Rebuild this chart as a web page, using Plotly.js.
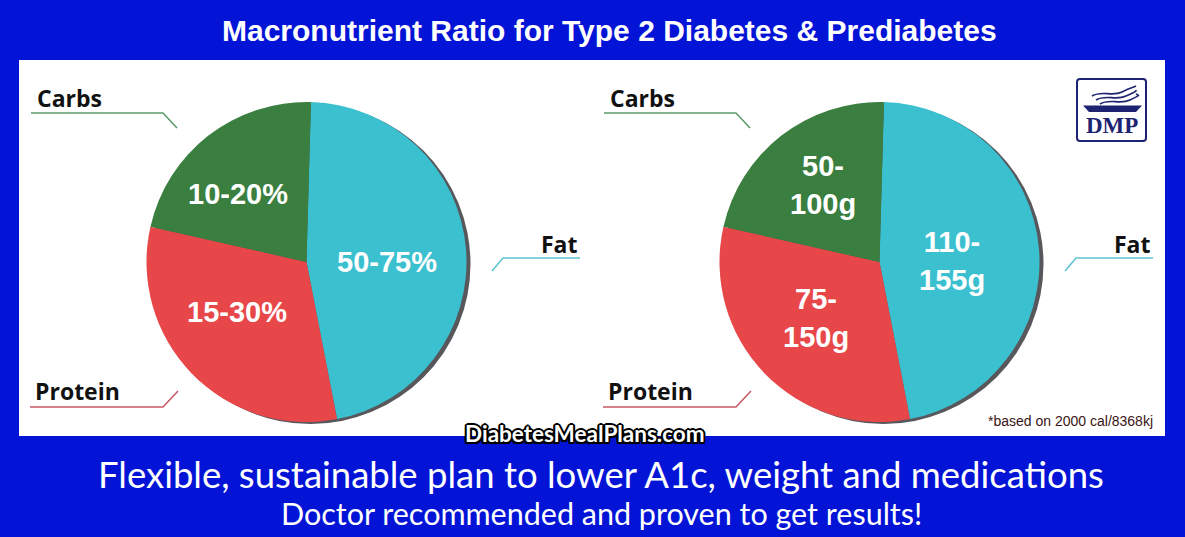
<!DOCTYPE html>
<html>
<head>
<meta charset="utf-8">
<script src="https://cdn.plot.ly/plotly-3.0.1.min.js"></script>
<style>
  html, body { margin: 0; padding: 0; background: #0314d6; }
  #chart { width: 1185px; height: 537px; }
</style>
</head>
<body>
<div id="chart"></div>
<script>
// ---------- DATA ----------
const macros = ['Fat', 'Protein', 'Carbs'];
const percentShare = [46.5, 31.6, 21.9];          // left pie (share of calories)
const gramShare = [46.5, 31.6, 21.9];             // right pie (same split, in grams)
const percentLabels = ['50-75%', '15-30%', '10-20%'];
const gramLabels = ['110-<br>155g', '75-<br>150g', '50-<br>100g'];
const sliceColors = ['#3bc0cf', '#e8474a', '#3a7f3f'];
const lineColors = ['#5fc4d1', '#c75a68', '#5c9c6c'];

// ---------- LAYOUT HELPERS ----------
const W = 1185, H = 537;
function dom(cx, cy, r) {
  return { x: [(cx - r) / W, (cx + r) / W], y: [(H - cy - r) / H, (H - cy + r) / H] };
}
const pies = [
  { cx: 306.5, cy: 262, r: 160, values: percentShare, labels: percentLabels,
    textPos: [[386.5, 262], [237, 312], [237.5, 193.5]] },
  { cx: 879.5, cy: 262, r: 160, values: gramShare, labels: gramLabels,
    textPos: [[952, 261], [816, 318], [823, 185]] }
];
const shift = 573;

const traces = [];
// empty cartesian trace so that pixel-space axes exist for shapes/annotations
traces.push({ type: 'scatter', x: [], y: [], showlegend: false, hoverinfo: 'skip' });

pies.forEach(p => {
  // shadow
  traces.push({
    type: 'pie', values: [1], labels: ['shadow'], domain: dom(p.cx + 4, p.cy + 2, p.r),
    marker: { colors: ['#58585c'], line: { width: 0 } }, textinfo: 'none',
    hoverinfo: 'skip', showlegend: false, sort: false
  });
  traces.push({
    type: 'pie', values: p.values, labels: macros, domain: dom(p.cx, p.cy, p.r),
    marker: { colors: sliceColors, line: { width: 0 } }, textinfo: 'none',
    sort: false, direction: 'clockwise', rotation: 1.6,
    hoverinfo: 'label+value', showlegend: false
  });
});

const annotations = [];
const shapes = [];

// White panel
shapes.push({ type: 'rect', xref: 'x', yref: 'y', x0: 19, x1: 1165, y0: 60, y1: 436,
  fillcolor: '#ffffff', line: { width: 0 }, layer: 'below' });

// Inside slice labels
pies.forEach(p => {
  p.labels.forEach((t, i) => {
    annotations.push({ xref: 'x', yref: 'y', x: p.textPos[i][0], y: p.textPos[i][1],
      text: t, showarrow: false, xanchor: 'center', yanchor: 'middle',
      font: { family: 'Liberation Sans, Arial, sans-serif', size: 29, color: '#ffffff', weight: 'bold' } });
  });
});

// Outside category labels with leader lines
const outside = [
  { name: 'Carbs', tx: 35, ty: 98, color: lineColors[2],
    path: [[31, 113], [163, 113], [177, 128]] },
  { name: 'Fat', tx: 539, ty: 244, color: lineColors[0],
    path: [[580, 258], [503, 258], [492, 271]] },
  { name: 'Protein', tx: 33, ty: 391, color: lineColors[1],
    path: [[30, 407], [163, 407], [178, 391]] }
];
[0, shift].forEach(dx => {
  outside.forEach(o => {
    annotations.push({ xref: 'x', yref: 'y', x: o.tx + dx, y: o.ty, text: o.name,
      showarrow: false, xanchor: 'left', yanchor: 'middle',
      font: { family: 'Open Sans, sans-serif', size: 23, color: '#111111', weight: 'bold' } });
    const d = o.path.map((pt, k) => (k ? 'L' : 'M') + (pt[0] + dx) + ',' + pt[1]).join(' ');
    shapes.push({ type: 'path', xref: 'x', yref: 'y', path: d,
      line: { color: o.color, width: 1.6 }, layer: 'above' });
  });
});

// Title
annotations.push({ xref: 'x', yref: 'y', x: 609.5, y: 30, text: 'Macronutrient Ratio for Type 2 Diabetes &amp; Prediabetes',
  showarrow: false, xanchor: 'center', yanchor: 'middle',
  font: { family: 'Liberation Sans, Arial, sans-serif', size: 30, color: '#ffffff', weight: 'bold' } });

// Footnote
annotations.push({ xref: 'x', yref: 'y', x: 1155, y: 421, text: '*based on 2000 cal/8368kj',
  showarrow: false, xanchor: 'right', yanchor: 'middle',
  font: { family: 'Liberation Sans, Arial, sans-serif', size: 14, color: '#3a1414' } });

// Website
const outline = '-2px 0 0 #000, 2px 0 0 #000, 0 -2px 0 #000, 0 2px 0 #000, -1.5px -1.5px 0 #000, 1.5px 1.5px 0 #000, -1.5px 1.5px 0 #000, 1.5px -1.5px 0 #000, 0 0 3px #000';
annotations.push({ xref: 'x', yref: 'y', x: 585, y: 433, text: 'DiabetesMealPlans.com',
  showarrow: false, xanchor: 'center', yanchor: 'middle',
  font: { family: 'Lato, sans-serif', size: 22.5, color: '#ffffff', weight: 'bold', shadow: outline } });

// Footer lines
annotations.push({ xref: 'x', yref: 'y', x: 601, y: 474, text: 'Flexible, sustainable plan to lower A1c, weight and medications',
  showarrow: false, xanchor: 'center', yanchor: 'middle',
  font: { family: 'Lato, sans-serif', size: 36.5, color: '#ffffff' } });
annotations.push({ xref: 'x', yref: 'y', x: 601, y: 513, text: 'Doctor recommended and proven to get results!',
  showarrow: false, xanchor: 'center', yanchor: 'middle',
  font: { family: 'Lato, sans-serif', size: 30.5, color: '#ffffff' } });

// DMP logo
const navy = '#1d2370';
shapes.push({ type: 'path', xref: 'x', yref: 'y',
  path: 'M1080,79 L1143,79 Q1146,79 1146,82 L1146,138 Q1146,141 1143,141 L1080,141 Q1077,141 1077,138 L1077,82 Q1077,79 1080,79 Z',
  line: { color: navy, width: 2 }, fillcolor: '#ffffff', layer: 'above' });
shapes.push({ type: 'path', xref: 'x', yref: 'y',
  path: 'M1083,105.5 L1142,105.5 L1136,112 L1089,112 Z', line: { width: 0 }, fillcolor: navy, layer: 'above' });
[[0], [4], [8]].forEach(o => {
  const dy = o[0];
  shapes.push({ type: 'path', xref: 'x', yref: 'y',
    path: `M${1092 + dy},${96 + dy} C${1102 + dy},${90 + dy} ${1112 + dy},${97 + dy} ${1122 + dy},${92 + dy} S${1132 + dy},${88 + dy} ${1136},${86 + dy}`,
    line: { color: navy, width: 1.6 }, layer: 'above' });
});
annotations.push({ xref: 'x', yref: 'y', x: 1112, y: 125.5, text: 'DMP', showarrow: false,
  xanchor: 'center', yanchor: 'middle',
  font: { family: 'Liberation Serif, Times New Roman, serif', size: 23, color: navy, weight: 'bold' } });

const layout = {
  width: W, height: H,
  margin: { l: 0, r: 0, t: 0, b: 0, pad: 0 },
  paper_bgcolor: '#0314d6',
  plot_bgcolor: 'rgba(0,0,0,0)',
  showlegend: false,
  xaxis: { range: [0, W], visible: false, fixedrange: true, domain: [0, 1] },
  yaxis: { range: [H, 0], visible: false, fixedrange: true, domain: [0, 1] },
  shapes: shapes,
  annotations: annotations
};

Plotly.newPlot('chart', traces, layout, { displayModeBar: false, staticPlot: false });
</script>
</body>
</html>
